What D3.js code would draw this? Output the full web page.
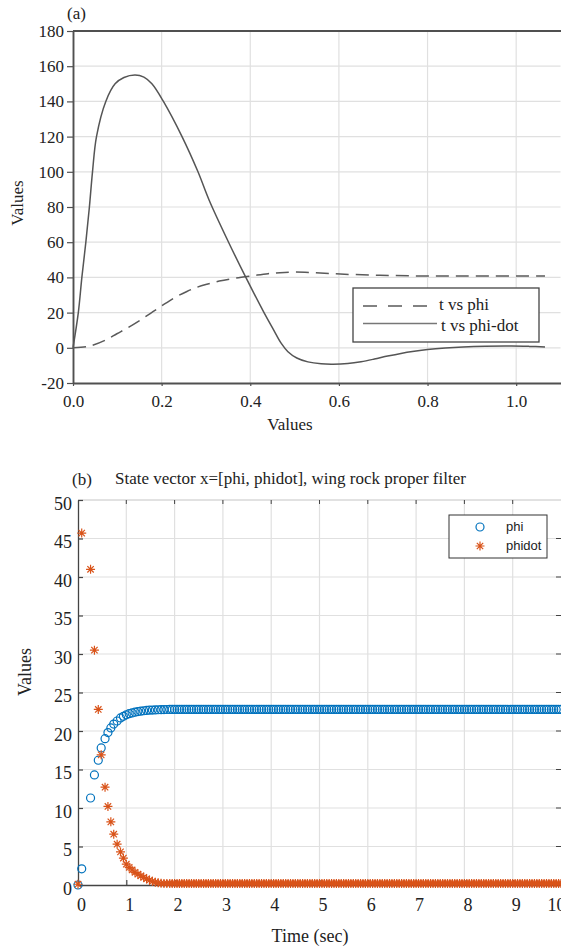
<!DOCTYPE html>
<html>
<head>
<meta charset="utf-8">
<script src="https://cdn.jsdelivr.net/npm/d3@7"></script>
<style>
  html, body { margin: 0; padding: 0; background: #fff; }
  svg { display: block; }
  svg text { font-family: "Liberation Serif", "Times New Roman", serif; fill: #222; }
  svg text.sans { font-family: "Liberation Sans", Arial, sans-serif; }
</style>
</head>
<body>
<svg id="fig" width="561" height="949"></svg>
<script>
// ---------- Panel (a): response curves ----------
const phiTime = [0, 0.03, 0.046, 0.075, 0.099, 0.125, 0.151, 0.175, 0.2, 0.23, 0.257, 0.28, 0.302, 0.33,
  0.362, 0.407, 0.44, 0.467, 0.5, 0.542, 0.603, 0.693, 0.801, 0.919, 1.065];
const phiValues = [0, 0.6, 1.6, 4.6, 8.0, 11.6, 15.6, 19.6, 23.8, 28.6, 32.0, 34.4, 36.1, 37.9,
  39.4, 41.0, 42.1, 42.7, 43.0, 42.7, 41.9, 41.2, 40.8, 40.8, 40.8];
const phiDotTime = [0, 0.012, 0.02, 0.029, 0.037, 0.044, 0.053, 0.074, 0.095, 0.115, 0.14, 0.16, 0.178, 0.204,
  0.246, 0.282, 0.307, 0.351, 0.39, 0.431, 0.452, 0.47, 0.485, 0.505, 0.53, 0.56, 0.587, 0.62, 0.65, 0.68,
  0.71, 0.74, 0.77, 0.80, 0.84, 0.88, 0.93, 0.99, 1.03, 1.065];
const phiDotValues = [0, 20, 40, 60, 80, 100, 120, 140, 150, 153.6, 155, 153.8, 150, 140,
  120, 100, 84, 60, 40, 20, 10.5, 2.5, -2.2, -5.8, -8.0, -9.1, -9.3, -8.9, -7.9, -6.4,
  -4.7, -3.2, -2.0, -1.0, -0.1, 0.5, 0.9, 1.0, 0.8, 0.5];
const panelAXTicks = [0, 0.2, 0.4, 0.6, 0.8, 1.0];
const panelAYTicks = [-20, 0, 20, 40, 60, 80, 100, 120, 140, 160, 180];
const panelALegend = ["t vs phi", "t vs phi-dot"];

// ---------- Panel (b): state vector samples ----------
const simTime = [0, 0.077, 0.26, 0.34, 0.42, 0.48, 0.56, 0.62, 0.68, 0.74, 0.81, 0.88, 0.94,
  1.0, 1.06, 1.12, 1.18, 1.24, 1.30, 1.36, 1.42, 1.48, 1.54, 1.60, 1.66, 1.72, 1.78, 1.84, 1.90, 1.95,
  2.00, 2.05, 2.10, 2.15, 2.20, 2.25, 2.30, 2.35, 2.40, 2.45, 2.50, 2.55, 2.60, 2.65, 2.70, 2.75, 2.80, 2.85, 2.90, 2.95,
  3.00, 3.05, 3.10, 3.15, 3.20, 3.25, 3.30, 3.35, 3.40, 3.45, 3.50, 3.55, 3.60, 3.65, 3.70, 3.75, 3.80, 3.85, 3.90, 3.95,
  4.00, 4.05, 4.10, 4.15, 4.20, 4.25, 4.30, 4.35, 4.40, 4.45, 4.50, 4.55, 4.60, 4.65, 4.70, 4.75, 4.80, 4.85, 4.90, 4.95,
  5.00, 5.05, 5.10, 5.15, 5.20, 5.25, 5.30, 5.35, 5.40, 5.45, 5.50, 5.55, 5.60, 5.65, 5.70, 5.75, 5.80, 5.85, 5.90, 5.95,
  6.00, 6.05, 6.10, 6.15, 6.20, 6.25, 6.30, 6.35, 6.40, 6.45, 6.50, 6.55, 6.60, 6.65, 6.70, 6.75, 6.80, 6.85, 6.90, 6.95,
  7.00, 7.05, 7.10, 7.15, 7.20, 7.25, 7.30, 7.35, 7.40, 7.45, 7.50, 7.55, 7.60, 7.65, 7.70, 7.75, 7.80, 7.85, 7.90, 7.95,
  8.00, 8.05, 8.10, 8.15, 8.20, 8.25, 8.30, 8.35, 8.40, 8.45, 8.50, 8.55, 8.60, 8.65, 8.70, 8.75, 8.80, 8.85, 8.90, 8.95,
  9.00, 9.05, 9.10, 9.15, 9.20, 9.25, 9.30, 9.35, 9.40, 9.45, 9.50, 9.55, 9.60, 9.65, 9.70, 9.75, 9.80, 9.85, 9.90, 9.95,
  10.00];
const simPhi = [0, 2.1, 11.3, 14.3, 16.2, 17.8, 19.0, 19.8, 20.4, 20.9, 21.3, 21.7, 21.9,
  22.1, 22.25, 22.35, 22.45, 22.52, 22.58, 22.63, 22.67, 22.7, 22.72, 22.74, 22.76, 22.77, 22.78, 22.79, 22.8, 22.8,
  22.8, 22.8, 22.8, 22.8, 22.8, 22.8, 22.8, 22.8, 22.8, 22.8, 22.8, 22.8, 22.8, 22.8, 22.8, 22.8, 22.8, 22.8, 22.8, 22.8,
  22.8, 22.8, 22.8, 22.8, 22.8, 22.8, 22.8, 22.8, 22.8, 22.8, 22.8, 22.8, 22.8, 22.8, 22.8, 22.8, 22.8, 22.8, 22.8, 22.8,
  22.8, 22.8, 22.8, 22.8, 22.8, 22.8, 22.8, 22.8, 22.8, 22.8, 22.8, 22.8, 22.8, 22.8, 22.8, 22.8, 22.8, 22.8, 22.8, 22.8,
  22.8, 22.8, 22.8, 22.8, 22.8, 22.8, 22.8, 22.8, 22.8, 22.8, 22.8, 22.8, 22.8, 22.8, 22.8, 22.8, 22.8, 22.8, 22.8, 22.8,
  22.8, 22.8, 22.8, 22.8, 22.8, 22.8, 22.8, 22.8, 22.8, 22.8, 22.8, 22.8, 22.8, 22.8, 22.8, 22.8, 22.8, 22.8, 22.8, 22.8,
  22.8, 22.8, 22.8, 22.8, 22.8, 22.8, 22.8, 22.8, 22.8, 22.8, 22.8, 22.8, 22.8, 22.8, 22.8, 22.8, 22.8, 22.8, 22.8, 22.8,
  22.8, 22.8, 22.8, 22.8, 22.8, 22.8, 22.8, 22.8, 22.8, 22.8, 22.8, 22.8, 22.8, 22.8, 22.8, 22.8, 22.8, 22.8, 22.8, 22.8,
  22.8, 22.8, 22.8, 22.8, 22.8, 22.8, 22.8, 22.8, 22.8, 22.8, 22.8, 22.8, 22.8, 22.8, 22.8, 22.8, 22.8, 22.8, 22.8, 22.8,
  22.8];
const simPhiDot = [0.1, 45.7, 41.0, 30.5, 22.8, 16.9, 12.7, 10.2, 8.2, 6.6, 5.3, 4.3, 3.5,
  2.7, 2.3, 1.95, 1.65, 1.4, 1.2, 1.0, 0.8, 0.62, 0.48, 0.36, 0.28, 0.22, 0.2, 0.2, 0.2, 0.2,
  0.2, 0.2, 0.2, 0.2, 0.2, 0.2, 0.2, 0.2, 0.2, 0.2, 0.2, 0.2, 0.2, 0.2, 0.2, 0.2, 0.2, 0.2, 0.2, 0.2,
  0.2, 0.2, 0.2, 0.2, 0.2, 0.2, 0.2, 0.2, 0.2, 0.2, 0.2, 0.2, 0.2, 0.2, 0.2, 0.2, 0.2, 0.2, 0.2, 0.2,
  0.2, 0.2, 0.2, 0.2, 0.2, 0.2, 0.2, 0.2, 0.2, 0.2, 0.2, 0.2, 0.2, 0.2, 0.2, 0.2, 0.2, 0.2, 0.2, 0.2,
  0.2, 0.2, 0.2, 0.2, 0.2, 0.2, 0.2, 0.2, 0.2, 0.2, 0.2, 0.2, 0.2, 0.2, 0.2, 0.2, 0.2, 0.2, 0.2, 0.2,
  0.2, 0.2, 0.2, 0.2, 0.2, 0.2, 0.2, 0.2, 0.2, 0.2, 0.2, 0.2, 0.2, 0.2, 0.2, 0.2, 0.2, 0.2, 0.2, 0.2,
  0.2, 0.2, 0.2, 0.2, 0.2, 0.2, 0.2, 0.2, 0.2, 0.2, 0.2, 0.2, 0.2, 0.2, 0.2, 0.2, 0.2, 0.2, 0.2, 0.2,
  0.2, 0.2, 0.2, 0.2, 0.2, 0.2, 0.2, 0.2, 0.2, 0.2, 0.2, 0.2, 0.2, 0.2, 0.2, 0.2, 0.2, 0.2, 0.2, 0.2,
  0.2, 0.2, 0.2, 0.2, 0.2, 0.2, 0.2, 0.2, 0.2, 0.2, 0.2, 0.2, 0.2, 0.2, 0.2, 0.2, 0.2, 0.2, 0.2, 0.2,
  0.2];
const panelBXTicks = [0, 1, 2, 3, 4, 5, 6, 7, 8, 9, 10];
const panelBYTicks = [0, 5, 10, 15, 20, 25, 30, 35, 40, 45, 50];
const panelBLegend = ["phi", "phidot"];
const panelBTitle = "State vector x=[phi, phidot], wing rock proper filter";

const svg = d3.select("#fig");
const GRID = "#e0e0e0";
const SERIF = "'Liberation Serif', 'Times New Roman', serif";

function styleAxis(ax, color, width, size) {
  ax.attr("font-family", null).attr("font-size", null);
  ax.select(".domain").attr("stroke", color).attr("stroke-width", width);
  ax.selectAll(".tick line").attr("stroke", color).attr("stroke-width", 1.2);
  ax.selectAll(".tick text").style("font-family", SERIF).style("font-size", size + "px").style("fill", "#222");
}

// ================= Panel (a) =================
const xA = d3.scaleLinear().domain([0, 1.1]).range([73, 560.5]);
const yA = d3.scaleLinear().domain([-20, 180]).range([383, 31]);
const gA = svg.append("g");

gA.append("g").selectAll("line").data(panelAXTicks.slice(1)).join("line")
  .attr("x1", d => xA(d)).attr("x2", d => xA(d))
  .attr("y1", yA(180)).attr("y2", yA(-20))
  .attr("stroke", GRID).attr("stroke-width", 1.2);
gA.append("g").selectAll("line").data(panelAYTicks.slice(1, -1)).join("line")
  .attr("x1", xA(0)).attr("x2", xA(1.1))
  .attr("y1", d => yA(d)).attr("y2", d => yA(d))
  .attr("stroke", GRID).attr("stroke-width", 1.2);

// box top edge
gA.append("line").attr("x1", xA(0)).attr("x2", 561).attr("y1", yA(180)).attr("y2", yA(180))
  .attr("stroke", "#505050").attr("stroke-width", 1.9);

const axAX = gA.append("g").attr("transform", `translate(0,${yA(-20)})`)
  .call(d3.axisBottom(xA).tickValues(panelAXTicks).tickFormat(d3.format(".1f")).tickSize(3).tickSizeOuter(0));
const axAY = gA.append("g").attr("transform", `translate(${xA(0)},0)`)
  .call(d3.axisLeft(yA).tickValues(panelAYTicks).tickFormat(d => String(d)).tickSize(6).tickSizeOuter(0));
styleAxis(axAX, "#505050", 1.9, 17);
styleAxis(axAY, "#505050", 1.9, 17);
axAX.selectAll(".tick text").attr("y", 12);
axAY.selectAll(".tick text").attr("x", -9);

const lineA = (times, vals) => d3.line()
  .x((d, i) => xA(times[i]))
  .y(d => yA(d))
  .curve(d3.curveCatmullRom.alpha(0.5))(vals);

gA.append("path").attr("d", lineA(phiTime, phiValues))
  .attr("fill", "none").attr("stroke", "#5a5a5a").attr("stroke-width", 1.5)
  .attr("stroke-dasharray", "13,7");
gA.append("path").attr("d", lineA(phiDotTime, phiDotValues))
  .attr("fill", "none").attr("stroke", "#555").attr("stroke-width", 1.5);

// legend
const legA = gA.append("g");
legA.append("rect").attr("x", 353).attr("y", 288).attr("width", 186).attr("height", 54)
  .attr("fill", "#fff").attr("stroke", "#444").attr("stroke-width", 1.3);
legA.append("line").attr("x1", 363).attr("x2", 427).attr("y1", 306).attr("y2", 306)
  .attr("stroke", "#5a5a5a").attr("stroke-width", 1.5).attr("stroke-dasharray", "14,11");
legA.append("line").attr("x1", 363).attr("x2", 437).attr("y1", 323.5).attr("y2", 323.5)
  .attr("stroke", "#777").attr("stroke-width", 1.5);
legA.append("text").attr("x", 439).attr("y", 310).style("font-size", "17px").text(panelALegend[0]);
legA.append("text").attr("x", 441).attr("y", 331).style("font-size", "17px").text(panelALegend[1]);

gA.append("text").attr("x", 67).attr("y", 19).style("font-size", "17px").text("(a)");
gA.append("text").attr("x", 290).attr("y", 430).attr("text-anchor", "middle")
  .style("font-size", "17px").text("Values");
gA.append("text").attr("transform", "translate(23,203) rotate(-90)").attr("text-anchor", "middle")
  .style("font-size", "17px").text("Values");

// ================= Panel (b) =================
const xB = d3.scaleLinear().domain([0, 10]).range([78, 561]);
const yB = d3.scaleLinear().domain([0, 50]).range([885, 500]);
const gB = svg.append("g");

gB.append("g").selectAll("line").data(panelBXTicks.slice(1, -1)).join("line")
  .attr("x1", d => xB(d)).attr("x2", d => xB(d))
  .attr("y1", yB(50)).attr("y2", yB(0))
  .attr("stroke", GRID).attr("stroke-width", 1.2);
gB.append("g").selectAll("line").data(panelBYTicks.slice(1, -1)).join("line")
  .attr("x1", xB(0)).attr("x2", xB(10))
  .attr("y1", d => yB(d)).attr("y2", d => yB(d))
  .attr("stroke", GRID).attr("stroke-width", 1.2);

// top edge with inward ticks
gB.append("line").attr("x1", xB(0)).attr("x2", xB(10)).attr("y1", yB(50)).attr("y2", yB(50))
  .attr("stroke", "#c4c4c4").attr("stroke-width", 1);
gB.append("g").selectAll("line").data(panelBXTicks.slice(1, -1)).join("line")
  .attr("x1", d => xB(d)).attr("x2", d => xB(d))
  .attr("y1", yB(50)).attr("y2", yB(50) + 4)
  .attr("stroke", "#444").attr("stroke-width", 1);
// right edge ticks
gB.append("g").selectAll("line").data(panelBYTicks.slice(1, -1)).join("line")
  .attr("x1", 556).attr("x2", 561)
  .attr("y1", d => yB(d)).attr("y2", d => yB(d))
  .attr("stroke", "#444").attr("stroke-width", 1);

const axBX = gB.append("g").attr("transform", `translate(0,${yB(0)})`)
  .call(d3.axisBottom(xB).tickValues(panelBXTicks).tickFormat(d => String(d)).tickSize(-5).tickSizeOuter(0));
const axBY = gB.append("g").attr("transform", `translate(${xB(0)},0)`)
  .call(d3.axisLeft(yB).tickValues(panelBYTicks).tickFormat(d => String(d)).tickSize(-5).tickSizeOuter(0));
styleAxis(axBX, "#444", 1.3, 18);
styleAxis(axBY, "#444", 1.3, 18);
axBX.selectAll(".tick text").attr("y", 13).attr("dx", d => d === 10 ? -5 : 3);
axBY.selectAll(".tick text").attr("x", -6).attr("dy", "0.5em");

// phi: open circles
gB.append("g").selectAll("circle").data(simPhi).join("circle")
  .attr("cx", (d, i) => xB(simTime[i])).attr("cy", d => yB(d)).attr("r", 4)
  .attr("fill", "none").attr("stroke", "#0072BD").attr("stroke-width", 1.2);

// phidot: asterisks
const starPath = "M-4.5,0H4.5M0,-4.5V4.5M-3.2,-3.2L3.2,3.2M-3.2,3.2L3.2,-3.2";
gB.append("g").selectAll("path").data(simPhiDot).join("path")
  .attr("transform", (d, i) => `translate(${xB(simTime[i])},${yB(d)})`)
  .attr("d", starPath).attr("fill", "none").attr("stroke", "#D95319").attr("stroke-width", 1.2);

// legend
const legB = gB.append("g");
legB.append("rect").attr("x", 449).attr("y", 515).attr("width", 98).attr("height", 43)
  .attr("fill", "#fff").attr("stroke", "#333").attr("stroke-width", 1);
legB.append("circle").attr("cx", 480).attr("cy", 527).attr("r", 4)
  .attr("fill", "none").attr("stroke", "#0072BD").attr("stroke-width", 1.2);
legB.append("path").attr("transform", "translate(480,546)").attr("d", starPath)
  .attr("fill", "none").attr("stroke", "#D95319").attr("stroke-width", 1.2);
legB.selectAll("text").data(panelBLegend).join("text")
  .attr("class", "sans")
  .attr("x", 506).attr("y", (d, i) => 531 + i * 19)
  .style("font-size", "13px")
  .text(d => d);

gB.append("text").attr("x", 72).attr("y", 485).style("font-size", "17px").text("(b)");
gB.append("text").attr("x", 115).attr("y", 484).style("font-size", "17px").text(panelBTitle);
gB.append("text").attr("x", 310).attr("y", 942).attr("text-anchor", "middle")
  .style("font-size", "18px").text("Time (sec)");
gB.append("text").attr("transform", "translate(31,672) rotate(-90)").attr("text-anchor", "middle")
  .style("font-size", "18px").text("Values");
</script>
</body>
</html>
